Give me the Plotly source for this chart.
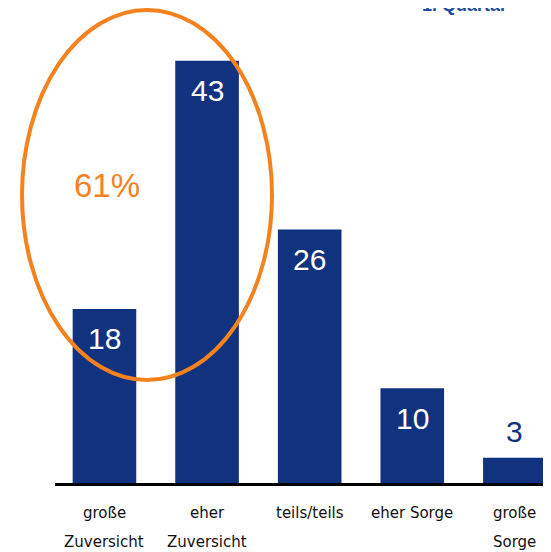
import plotly.graph_objects as go

label_line1 = ["große", "eher", "teils/teils", "eher Sorge", "große"]
label_line2 = ["Zuversicht", "Zuversicht", "", "", "Sorge"]
values = [18, 43, 26, 10, 3]
highlight_label = "61%"
header_text = "1. Quartal"

BAR = "#10327f"
ORANGE = "#f4821f"
TICKFONT = dict(family="DejaVu Sans", size=15, color="#111111")

x = list(range(len(values)))

fig = go.Figure()
fig.add_trace(go.Bar(x=x, y=values, width=0.62, marker=dict(color=BAR, line=dict(width=0)),
                     hoverinfo="skip"))

for i, v in enumerate(values):
    inside = v >= 5
    fig.add_annotation(x=i, y=v, xref="x", yref="y", text=str(v), showarrow=False,
                       yanchor="middle", yshift=-30 if inside else 26,
                       font=dict(family="Liberation Sans, Arial", size=30,
                                 color="white" if inside else BAR))

# category labels (two lines with wide leading)
for i, (l1, l2) in enumerate(zip(label_line1, label_line2)):
    fig.add_annotation(x=i, xref="x", y=0, yref="paper", text=l1, showarrow=False,
                       xanchor="center", yanchor="middle", yshift=-30, font=TICKFONT)
    if l2:
        fig.add_annotation(x=i, xref="x", y=0, yref="paper", text=l2, showarrow=False,
                           xanchor="center", yanchor="middle", yshift=-59, font=TICKFONT)

# highlight ellipse and label
fig.add_shape(type="circle", xref="paper", yref="paper",
              x0=-0.0665, x1=0.4375, y0=0.2225, y1=1.0216,
              line=dict(color=ORANGE, width=4), fillcolor="rgba(0,0,0,0)")
fig.add_annotation(xref="paper", yref="paper", x=0.1048, y=0.6415, text=highlight_label,
                   showarrow=False, xanchor="center", yanchor="middle",
                   font=dict(family="Liberation Sans, Arial", size=33, color=ORANGE))

fig.add_annotation(xref="paper", yref="paper", x=0.736, y=1.007, text="<b>" + header_text + "</b>",
                   showarrow=False, xanchor="left", yanchor="bottom",
                   font=dict(family="Liberation Sans, Arial", size=18, color="#1f4ea0"))

fig.update_layout(
    width=543, height=544,
    margin=dict(l=47, r=0, t=12, b=69),
    paper_bgcolor="white", plot_bgcolor="white",
    showlegend=False,
    xaxis=dict(range=[-0.482, 4.352], showticklabels=False, ticks="",
               showline=True, linecolor="black", linewidth=3, showgrid=False, zeroline=False,
               fixedrange=True),
    yaxis=dict(range=[0.45, 47.12], visible=False, showgrid=False, zeroline=False, fixedrange=True),
)

fig.write_html("out.html")
